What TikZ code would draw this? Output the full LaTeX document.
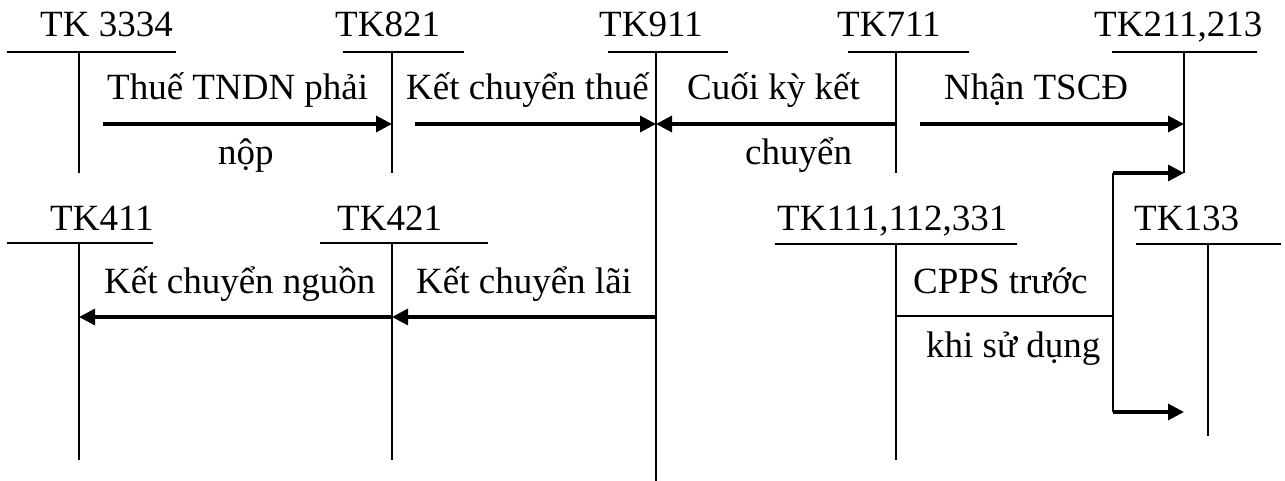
\documentclass[tikz,border=0pt]{standalone}
\usepackage{fontspec}
\setmainfont{Liberation Serif}
\usetikzlibrary{arrows.meta}
\begin{document}
\begin{tikzpicture}[x=1pt,y=-1pt,
  tline/.style={line width=2pt},
  thin/.style={line width=1.8pt},
  flow/.style={line width=3.2pt,-{Triangle[length=16pt,width=16pt]}},
  lbl/.style={inner sep=0pt,anchor=base west,font=\fontsize{37}{40}\selectfont},
]
\useasboundingbox (0,0) rectangle (1285,481);

% titles
\node[lbl] (t3334) at (40,37) {TK 3334};
\node[lbl] (t821) at (335,37) {TK821};
\node[lbl] (t911) at (599,37) {TK911};
\node[lbl] (t711) at (837,37) {TK711};
\node[lbl] (t211) at (1094,37) {TK211,213};
\node[lbl] (t411) at (50,230) {TK411};
\node[lbl] (t421) at (337,230) {TK421};
\node[lbl] (t111) at (777,230) {TK111,112,331};
\node[lbl] (t133) at (1134,230) {TK133};

% T-account coordinates
\coordinate (c3334) at (79,52);  \coordinate (b3334) at (79,173);
\coordinate (c821) at (392,52);  \coordinate (b821) at (392,173);
\coordinate (c911) at (656,52);  \coordinate (b911) at (656,481);
\coordinate (c711) at (896,52);  \coordinate (b711) at (896,173);
\coordinate (c211) at (1184,52); \coordinate (b211) at (1184,173);
\coordinate (c411) at (79,243);  \coordinate (b411) at (79,460);
\coordinate (c421) at (392,243); \coordinate (b421) at (392,460);
\coordinate (c111) at (896,244); \coordinate (b111) at (896,460);
\coordinate (c133) at (1208,244); \coordinate (b133) at (1208,436);

\draw[tline] (7,52) -- (176,52);   \draw[tline] (c3334) -- (b3334);
\draw[tline] (343,52) -- (464,52); \draw[tline] (c821) -- (b821);
\draw[tline] (608,52) -- (728,52); \draw[tline] (c911) -- (b911);
\draw[tline] (848,52) -- (969,52); \draw[tline] (c711) -- (b711);
\draw[tline] (1112,52) -- (1257,52); \draw[tline] (c211) -- (b211);
\draw[tline] (7,243) -- (153,243); \draw[tline] (c411) -- (b411);
\draw[tline] (320,243) -- (488,243); \draw[tline] (c421) -- (b421);
\draw[tline] (775,244) -- (1017,244); \draw[tline] (c111) -- (b111);
\draw[tline] (1136,244) -- (1281,244); \draw[tline] (c133) -- (b133);

% arrow end points
\coordinate (s1) at (103,124); \coordinate (e1) at (392,124);
\coordinate (s2) at (415,124); \coordinate (e2) at (656,124);
\coordinate (s3) at (896,124); \coordinate (e3) at (656,124);
\coordinate (s4) at (920,124); \coordinate (e4) at (1184,124);
\coordinate (s5) at (656,317); \coordinate (e5) at (392,317);
\coordinate (s6) at (392,317); \coordinate (e6) at (79,317);
\coordinate (s7) at (896,316); \coordinate (k7) at (1113,316);
\coordinate (u7) at (1113,173); \coordinate (e7) at (1184,173);
\coordinate (d7) at (1113,412); \coordinate (f7) at (1184,412);

\draw[flow] (s1) -- (e1);
\draw[flow] (s2) -- (e2);
\draw[flow] (s3) -- (e3);
\draw[flow] (s4) -- (e4);
\draw[flow] (s5) -- (e5);
\draw[flow] (s6) -- (e6);
\draw[thin] (s7) -- (k7);
\draw[tline] (u7) -- (d7);
\draw[flow] (u7) -- (e7);
\draw[flow] (d7) -- (f7);

% labels
\node[lbl] (l1a) at (107,100) {Thuế TNDN phải};
\node[lbl] (l1b) at (218,165) {nộp};
\node[lbl] (l2) at (406,100) {Kết chuyển thuế};
\node[lbl] (l3a) at (687,100) {Cuối kỳ kết};
\node[lbl] (l3b) at (745,165) {chuyển};
\node[lbl] (l4) at (944,100) {Nhận TSCĐ};
\node[lbl] (l5) at (104,293) {Kết chuyển nguồn};
\node[lbl] (l6) at (416,293) {Kết chuyển lãi};
\node[lbl] (l7a) at (913,293) {CPPS trước};
\node[lbl] (l7b) at (926,357) {khi sử dụng};
\end{tikzpicture}
\end{document}
